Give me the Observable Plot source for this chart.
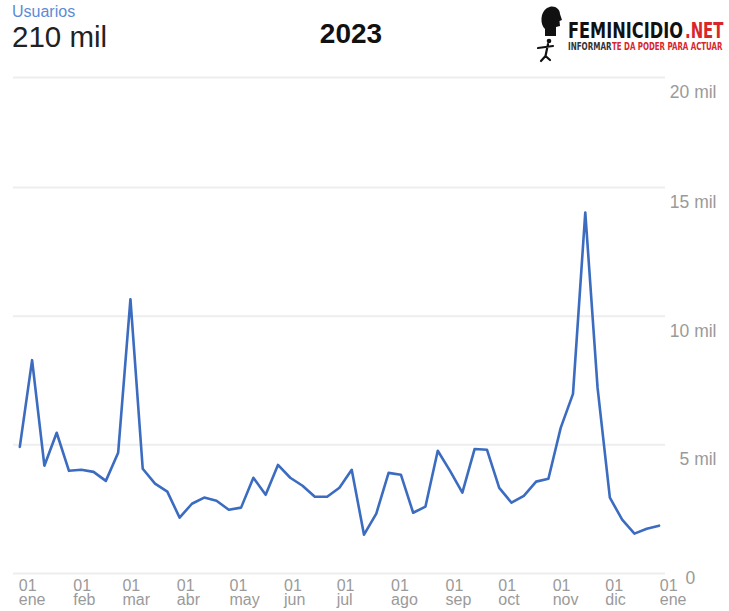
<!DOCTYPE html>
<html>
<head>
<meta charset="utf-8">
<script src="https://cdn.jsdelivr.net/npm/d3@7"></script>
<script src="https://cdn.jsdelivr.net/npm/@observablehq/plot@0.6"></script>
<style>
  html, body { margin: 0; padding: 0; background: #fff; }
  #wrap { position: relative; width: 729px; height: 611px; overflow: hidden; font-family: "Liberation Sans", Arial, Helvetica, sans-serif; }
  #header { position: absolute; left: 0; top: 0; }
  .logo { font-family: "DejaVu Sans Condensed", "Liberation Sans", Arial, sans-serif; font-weight: bold; }
</style>
</head>
<body>
<div id="wrap">
  <div id="chart"></div>
  <svg id="header" width="729" height="70" xmlns="http://www.w3.org/2000/svg">
    <text x="12" y="17" font-size="16" fill="#5b8bd6" font-family="Liberation Sans, Arial, sans-serif">Usuarios</text>
    <text x="12" y="47" font-size="29.5" fill="#222" font-family="Liberation Sans, Arial, sans-serif">210 mil</text>
    <text x="351" y="43" font-size="28" font-weight="bold" fill="#111" text-anchor="middle" font-family="Liberation Sans, Arial, sans-serif">2023</text>
    <!-- logo -->
    <path d="M545,36 L545,29 C540,25 540,12 547,8 C553,4 560,8 560,14 L562,20 L559.5,21 L560,26 L556,27 L556,36 Z" fill="#111"/>
    <circle cx="549" cy="41" r="2.3" fill="#111"/>
    <path d="M548,44 L545.5,56 M538,48 L553,46 M545.5,56 L541,61 M545.5,56 L550,60" stroke="#111" stroke-width="2.2" fill="none" stroke-linecap="round"/>
    <text class="logo" transform="matrix(1,0,0,1.2,568,38)" font-size="18" fill="#111">FEMINICIDIO</text>
    <text class="logo" transform="matrix(0.92,0,0,1.2,685,38)" font-size="18" fill="#d9262b">.NET</text>
    <text class="logo" transform="matrix(1,0,0,1.2,568,50)" font-size="8" fill="#333">INFORMAR</text>
    <text class="logo" transform="matrix(0.98,0,0,1.2,612,50)" font-size="8" fill="#d9262b">TE DA PODER PARA ACTUAR</text>
  </svg>
</div>
<script>
// Weekly users, 2023 (first week starts 1 Jan 2023)
const startDate = new Date(Date.UTC(2023, 0, 1));
const weeklyUsers = [
  4920, 8290, 4190, 5470, 3990, 4030, 3950, 3600, 4690, 10660,
  4070, 3490, 3180, 2170, 2710, 2950, 2830, 2480, 2560, 3720,
  3060, 4220, 3720, 3410, 2980, 2980, 3330, 4030, 1510, 2330,
  3910, 3840, 2360, 2600, 4770, 3990, 3140, 4840, 4810, 3330,
  2750, 3020, 3570, 3680, 5660, 6980, 14030, 7210, 2950, 2090,
  1550, 1740, 1860
];
const weekDates = weeklyUsers.map((_, i) => d3.utcDay.offset(startDate, 7 * i));

const yTicks = [0, 5000, 10000, 15000, 20000];
const yTickLabels = ["0", "5 mil", "10 mil", "15 mil", "20 mil"];
const monthLabels = ["ene", "feb", "mar", "abr", "may", "jun", "jul", "ago", "sep", "oct", "nov", "dic"];
const monthTicks = d3.utcMonth.range(new Date(Date.UTC(2023, 0, 1)), new Date(Date.UTC(2024, 0, 2)));

const yLabel = d => yTickLabels[yTicks.indexOf(d)];

const chart = Plot.plot({
  width: 729,
  height: 611,
  marginLeft: 13,
  marginRight: 64,
  marginTop: 77,
  marginBottom: 38,
  style: { fontFamily: "Liberation Sans, Arial, Helvetica, sans-serif", background: "transparent", overflow: "visible" },
  x: { type: "utc", domain: [new Date(Date.UTC(2023, 0, 1)), new Date(Date.UTC(2024, 0, 1))], range: [19.3, 660.3], axis: null },
  y: { type: "linear", domain: [0, 15000, 20000], range: [573, 187, 77], axis: null },
  marks: [
    Plot.ruleY(yTicks, { stroke: "#eeeeee", strokeWidth: 2 }),
    Plot.text(yTicks.slice(1), {
      y: d => d, text: yLabel, frameAnchor: "right", textAnchor: "end",
      dx: 51, dy: 15, fontSize: 17.5, fill: "#9a9a9a"
    }),
    Plot.text([0], {
      y: d => d, text: yLabel, frameAnchor: "right", textAnchor: "start",
      dx: 20, dy: 5, fontSize: 17.5, fill: "#9a9a9a"
    }),
    Plot.axisX(monthTicks, {
      anchor: "bottom", tickSize: 0, tickFormat: d => "01\n" + monthLabels[d.getUTCMonth()],
      textAnchor: "start", dx: -1, dy: -2, fontSize: 16, lineHeight: 0.9, fill: "#9a9a9a", label: null
    }),
    Plot.lineY(weeklyUsers, { x: weekDates, y: weeklyUsers, stroke: "#3b6cc0", strokeWidth: 2.6 })
  ]
});
document.getElementById("chart").appendChild(chart);
</script>
</body>
</html>
